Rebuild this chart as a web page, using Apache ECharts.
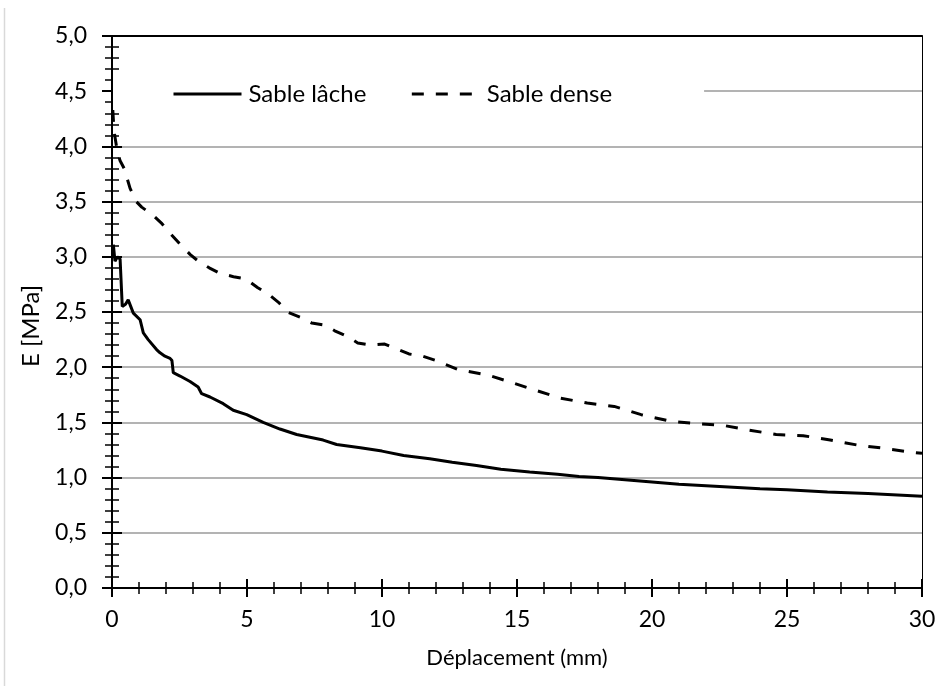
<!DOCTYPE html>
<html>
<head>
<meta charset="utf-8">
<script src="https://cdn.jsdelivr.net/npm/echarts@6/dist/echarts.min.js"></script>
<style>
html,body{margin:0;padding:0;background:#fff;}
#chart{width:942px;height:686px;}
</style>
</head>
<body>
<div id="chart"></div>
<script>
const seriesNames = ['Sable lâche', 'Sable dense'];
const xTitle = 'Déplacement (mm)';
const yTitle = 'E [MPa]';

const looseX = [0.05, 0.11, 0.2, 0.3, 0.38, 0.5, 0.6, 0.79, 1.04, 1.16, 1.34, 1.65, 1.78, 1.96, 2.15, 2.22, 2.27, 2.52, 2.89, 3.19, 3.32, 3.63, 4.12, 4.49, 4.99, 5.6, 6.22, 6.84, 7.82, 8.32, 9.2, 10.0, 10.8, 11.77, 12.6, 13.5, 14.4, 15.47, 16.5, 17.3, 18.0, 19.0, 20.0, 21.0, 22.5, 24.0, 25.0, 26.5, 28.0, 30.0];
const looseY = [3.11, 2.96, 3.0, 2.98, 2.55, 2.57, 2.61, 2.49, 2.43, 2.31, 2.25, 2.16, 2.13, 2.10, 2.08, 2.06, 1.95, 1.92, 1.87, 1.82, 1.76, 1.73, 1.67, 1.61, 1.57, 1.50, 1.44, 1.39, 1.34, 1.30, 1.27, 1.24, 1.20, 1.17, 1.14, 1.11, 1.075, 1.05, 1.03, 1.01, 1.0, 0.98, 0.96, 0.94, 0.92, 0.90, 0.89, 0.87, 0.855, 0.83];

const denseX = [0.03, 0.06, 0.1, 0.2, 0.3, 0.45, 0.67, 0.9, 1.1, 1.5, 1.85, 2.2, 2.5, 2.9, 3.2, 3.6, 4.0, 4.5, 4.95, 5.4, 5.8, 6.2, 6.5, 7.0, 7.4, 7.9, 8.25, 8.7, 9.1, 9.6, 10.1, 10.5, 11.0, 11.5, 12.0, 12.8, 13.9, 14.7, 15.7, 16.6, 17.6, 18.6, 19.6, 20.7, 21.6, 22.6, 23.6, 24.6, 25.6, 26.6, 27.6, 28.6, 29.6, 30.0];
const denseY = [4.33, 4.2, 4.1, 3.95, 3.87, 3.8, 3.62, 3.5, 3.45, 3.38, 3.3, 3.2, 3.12, 3.02, 2.96, 2.9, 2.85, 2.82, 2.8, 2.72, 2.66, 2.58, 2.5, 2.45, 2.40, 2.38, 2.33, 2.28, 2.22, 2.2, 2.21, 2.17, 2.12, 2.1, 2.06, 1.98, 1.93, 1.87, 1.79, 1.72, 1.675, 1.645, 1.57, 1.51, 1.49, 1.475, 1.43, 1.39, 1.38, 1.34, 1.295, 1.265, 1.23, 1.22];

const xMin = 0, xMax = 30, xStep = 5;
const yMin = 0, yMax = 5, yStep = 0.5;

const FONT = 'Lato';
const pairs = (xs, ys) => xs.map((x, i) => [x, ys[i]]);

const chart = echarts.init(document.getElementById('chart'), null, {renderer: 'canvas'});

const baseX = {type: 'value', min: xMin, max: xMax, interval: xStep, gridIndex: 0, splitLine: {show: false}};
const baseY = {type: 'value', min: yMin, max: yMax, interval: yStep, gridIndex: 0, splitLine: {show: false}};

const option = {
  backgroundColor: '#fff',
  animation: false,
  textStyle: {fontFamily: FONT},
  grid: {left: 112, right: 20, top: 36, bottom: 98, containLabel: false, outerBoundsMode: 'none'},
  legend: {
    data: seriesNames,
    left: 113, top: 76,
    padding: [6, 92, 6, 59],
    backgroundColor: '#fff',
    itemWidth: 68, itemHeight: 14, itemGap: 44,
    itemStyle: {opacity: 0, color: 'transparent', borderWidth: 0},
    lineStyle: {width: 3, color: '#000'},
    textStyle: {fontSize: 24, color: '#000', fontFamily: FONT, padding: [0, 0, 0, 2]}
  },
  xAxis: [
    Object.assign({}, baseX, {
      position: 'bottom',
      axisLine: {show: true, onZero: false, lineStyle: {color: '#000', width: 2}},
      axisTick: {show: true, inside: false, length: 9, lineStyle: {color: '#000', width: 2}},
      minorTick: {show: true, splitNumber: 5, length: 6, lineStyle: {color: '#000', width: 1.5}},
      axisLabel: {fontSize: 23, color: '#000', margin: 20, fontFamily: FONT},
      name: xTitle, nameLocation: 'middle', nameGap: 59,
      nameTextStyle: {fontSize: 22, color: '#000', fontFamily: FONT}
    }),
    Object.assign({}, baseX, {
      position: 'bottom',
      axisLine: {show: false, onZero: false},
      axisTick: {show: true, inside: true, length: 9, lineStyle: {color: '#000', width: 2}},
      minorTick: {show: true, splitNumber: 5, length: 6, lineStyle: {color: '#000', width: 1.5}},
      axisLabel: {show: false}
    }),
    Object.assign({}, baseX, {
      position: 'top',
      axisLine: {show: true, onZero: false, lineStyle: {color: '#000', width: 2}},
      axisTick: {show: false}, axisLabel: {show: false}
    })
  ],
  yAxis: [
    Object.assign({}, baseY, {
      position: 'left',
      axisLine: {show: true, onZero: false, lineStyle: {color: '#000', width: 2}},
      axisTick: {show: true, inside: false, length: 10, lineStyle: {color: '#000', width: 2}},
      minorTick: {show: true, splitNumber: 5, length: 7, lineStyle: {color: '#000', width: 1.5}},
      splitLine: {show: true, lineStyle: {color: '#9a9a9a', width: 1.5}},
      axisLabel: {fontSize: 23, color: '#000', margin: 25, fontFamily: FONT,
        formatter: v => v.toFixed(1).replace('.', ',')}
    }),
    Object.assign({}, baseY, {
      position: 'left',
      axisLine: {show: false, onZero: false},
      axisTick: {show: true, inside: true, length: 10, lineStyle: {color: '#000', width: 2}},
      minorTick: {show: true, splitNumber: 5, length: 7, lineStyle: {color: '#000', width: 1.5}},
      axisLabel: {show: false}
    }),
    Object.assign({}, baseY, {
      position: 'right',
      axisLine: {show: true, onZero: false, lineStyle: {color: '#000', width: 1}},
      axisTick: {show: false}, axisLabel: {show: false}
    })
  ],
  graphic: [
    {type: 'line', shape: {x1: 4.5, y1: 8, x2: 4.5, y2: 686}, style: {stroke: '#d9d9d9', lineWidth: 1.5}, silent: true},
    {type: 'text', x: 31, y: 326, rotation: Math.PI / 2,
      style: {text: yTitle, font: '24px ' + FONT, fill: '#000', align: 'center', verticalAlign: 'middle'}, z: 10}
  ],
  series: [
    {
      name: seriesNames[0], type: 'line', xAxisIndex: 0, yAxisIndex: 0,
      data: pairs(looseX, looseY), symbol: 'none', showSymbol: false,
      lineStyle: {color: '#000', width: 3, type: 'solid'}, itemStyle: {color: '#000'}, z: 5
    },
    {
      name: seriesNames[1], type: 'line', xAxisIndex: 0, yAxisIndex: 0,
      data: pairs(denseX, denseY), symbol: 'none', showSymbol: false,
      lineStyle: {color: '#000', width: 3, type: [12, 12]}, itemStyle: {color: '#000'}, z: 5
    }
  ]
};
chart.setOption(option);
</script>
</body>
</html>
